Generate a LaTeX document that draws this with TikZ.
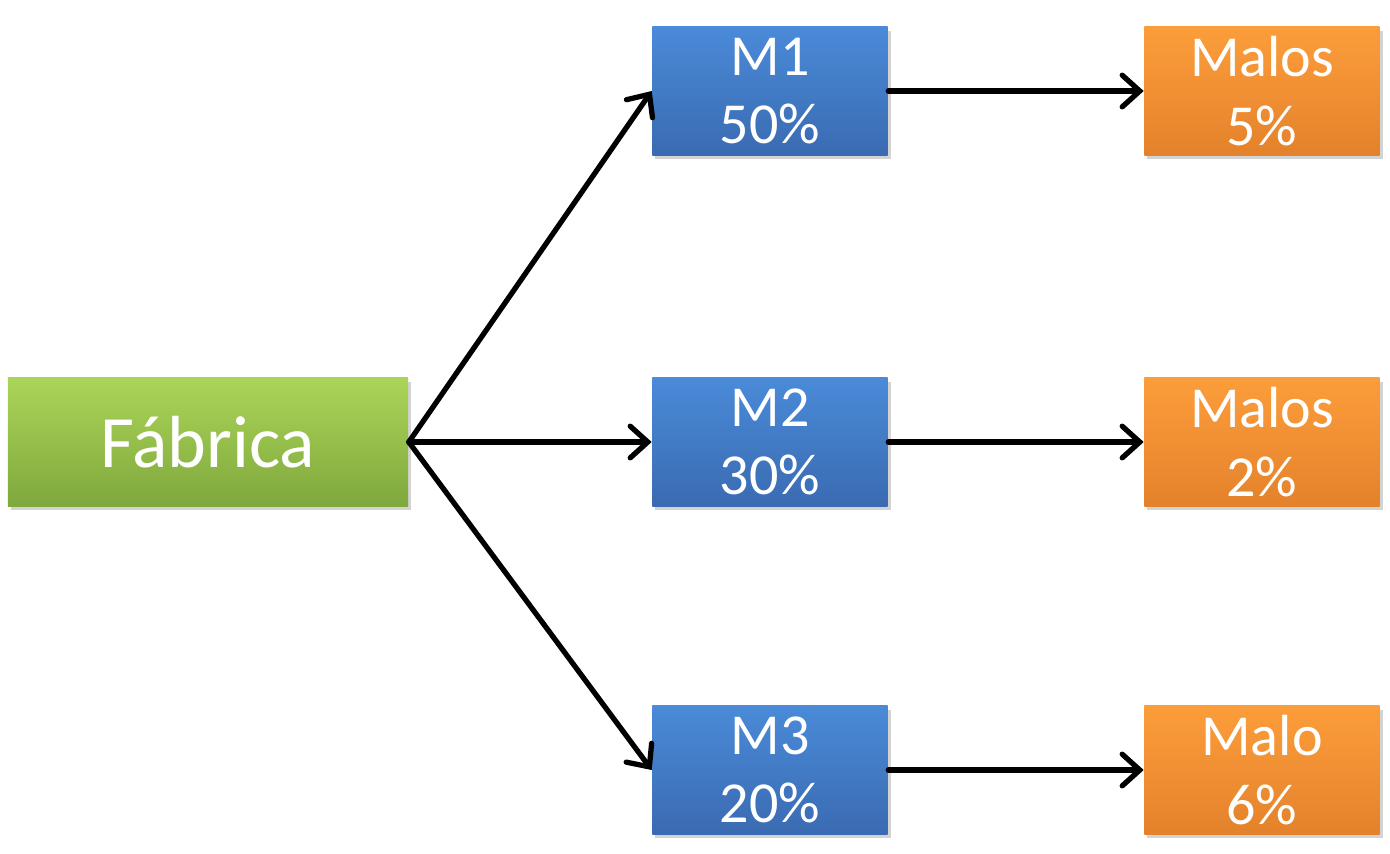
\documentclass[tikz,border=0pt]{standalone}
\usepackage{fontspec}
\setmainfont{Carlito}
\usepackage{tikz}
\usetikzlibrary{arrows.meta,shadows}

\definecolor{fabtop}{HTML}{ABD558}
\definecolor{fabbot}{HTML}{7FA83D}
\definecolor{mtop}{HTML}{4A8AD8}
\definecolor{mbot}{HTML}{3A6BB2}
\definecolor{maltop}{HTML}{FC9D3B}
\definecolor{malbot}{HTML}{E4822B}

\tikzset{
  caja/.style={draw=none,text=white,align=center,minimum height=1.28cm,inner sep=0pt,
    drop shadow={shadow xshift=0.03cm,shadow yshift=-0.04cm,opacity=0.35},
    font=\fontsize{16.5}{19.4}\selectfont},
  fabrica/.style={caja,minimum width=4.0cm,top color=fabtop,bottom color=fabbot,
    font=\fontsize{21}{25}\selectfont},
  maquina/.style={caja,minimum width=2.35cm,top color=mtop,bottom color=mbot},
  malos/.style={caja,minimum width=2.35cm,top color=maltop,bottom color=malbot},
  flecha/.style={line width=1.5pt,line cap=round,-{Straight Barb[length=5pt,width=9pt,line cap=round]}}
}

\begin{document}
\begin{tikzpicture}[line cap=round,line join=round,x=0.01cm,y=-0.01cm]
\useasboundingbox (0,0) rectangle (1390,853);

\node[fabrica] (fab) at (208,442) {Fábrica};

\node[maquina] (m1) at (770,91) {M1\\50\%};
\node[maquina] (m2) at (770,442) {M2\\30\%};
\node[maquina] (m3) at (770,770) {M3\\20\%};

\node[malos] (b1) at (1262,91) {Malos\\5\%};
\node[malos] (b2) at (1262,442) {Malos\\2\%};
\node[malos] (b3) at (1262,770) {Malo\\6\%};

\draw[flecha] (fab.east) -- (m1.west);
\draw[flecha] (fab.east) -- (m2.west);
\draw[flecha] (fab.east) -- (m3.west);
\draw[flecha] (m1.east) -- (b1.west);
\draw[flecha] (m2.east) -- (b2.west);
\draw[flecha] (m3.east) -- (b3.west);
\end{tikzpicture}
\end{document}
